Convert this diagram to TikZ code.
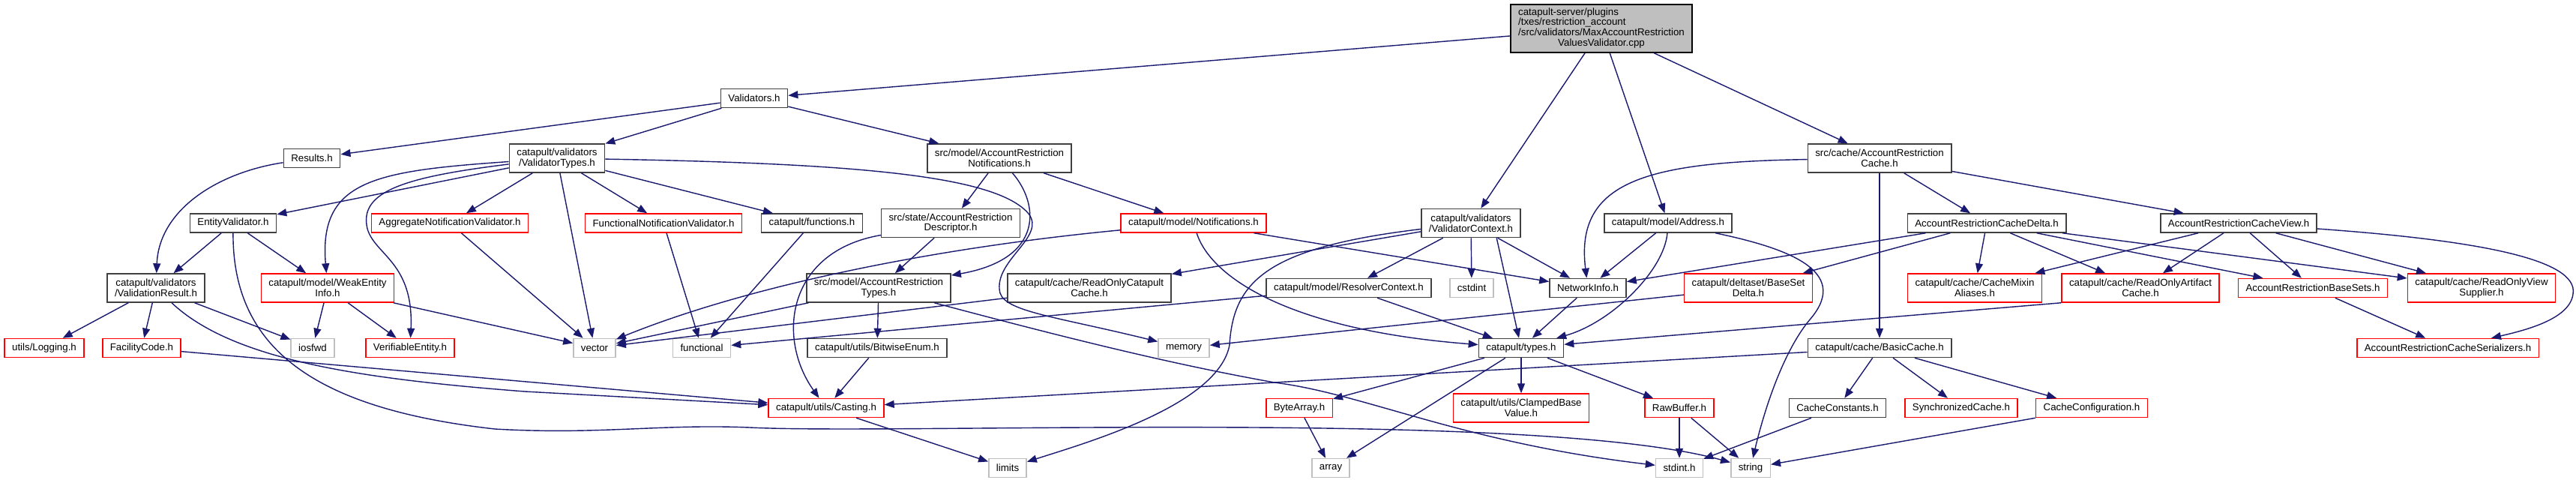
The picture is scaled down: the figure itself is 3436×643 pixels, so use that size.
\documentclass[tikz,border=0pt]{standalone}
\usepackage{fontspec}
\setmainfont{Liberation Sans}
\usepackage{tikz}
\usetikzlibrary{arrows.meta}
\definecolor{depblue}{HTML}{191970}
\definecolor{docgray}{HTML}{404040}
\definecolor{sysgray}{HTML}{BFBFBF}
\newcommand{\depfont}{\fontsize{6.65}{6.9}\selectfont}

\begin{document}
\begin{tikzpicture}[x=0.5pt,y=-0.5pt,
  hdr/.style={draw=docgray,line width=0.75pt,fill=white,inner xsep=5pt,inner ysep=1pt,
    minimum height=12.5pt,align=center,font=\depfont},
  hdrtwo/.style={hdr,minimum height=19pt},
  hdrred/.style={hdr,draw=red},
  hdrredtwo/.style={hdrtwo,draw=red},
  hdrsys/.style={hdr,draw=sysgray},
  dep/.style={draw=depblue,line width=0.7pt,-{Triangle[length=6.5pt,width=5pt]}}]

% sfondo
\fill[white] (0,0) rectangle (3436,643);
\useasboundingbox (0,0) rectangle (3436,643);

%========================
% File principale
%========================

\node[hdr,fill=sysgray,draw=black,minimum height=32pt] (main) at (2136,38)
{\begin{tabular}{@{}l@{}}catapult-server/plugins\\/txes/restriction\_account\\/src/validators/MaxAccountRestriction\\\multicolumn{1}{@{}c@{}}{ValuesValidator.cpp}\end{tabular}};

%========================
% Livelli 1-3
%========================

\node[hdr] (validators) at (1006,131) {Validators.h};

\node[hdr] (results) at (416,211) {Results.h};
\node[hdrtwo] (vtypes) at (743,211) {catapult/validators\\/ValidatorTypes.h};
\node[hdrtwo] (arnotif) at (1333,211) {src/model/AccountRestriction\\Notifications.h};
\node[hdrtwo] (arcache) at (2507,211) {src/cache/AccountRestriction\\Cache.h};

\node[hdr] (entityval) at (311,297.5) {EntityValidator.h};
\node[hdrred] (aggval) at (600,297.5) {AggregateNotificationValidator.h};
\node[hdrred] (funcval) at (885,297.5) {FunctionalNotificationValidator.h};
\node[hdr] (functions) at (1083,297.5) {catapult/functions.h};
\node[hdrtwo] (ardesc) at (1268,297.5) {src/state/AccountRestriction\\Descriptor.h};
\node[hdrred] (notif) at (1592,297.5) {catapult/model/Notifications.h};
\node[hdrtwo] (vctx) at (1962,297.5) {catapult/validators\\/ValidatorContext.h};
\node[hdr] (address) at (2225,297.5) {catapult/model/Address.h};
\node[hdr] (ardelta) at (2650,297.5) {AccountRestrictionCacheDelta.h};
\node[hdr] (arview) at (2986,297.5) {AccountRestrictionCacheView.h};

%========================
% Livelli 4-7
%========================

\node[hdrtwo] (vresult) at (208,384) {catapult/validators\\/ValidationResult.h};
\node[hdrredtwo] (weak) at (437,384) {catapult/model/WeakEntity\\Info.h};
\node[hdrtwo] (artypes) at (1172,384) {src/model/AccountRestriction\\Types.h};
\node[hdrtwo] (rocache) at (1453,384) {catapult/cache/ReadOnlyCatapult\\Cache.h};
\node[hdr] (resolver) at (1799,384) {catapult/model/ResolverContext.h};
\node[hdr] (netinfo) at (2118,384) {NetworkInfo.h};
\node[hdrredtwo] (basesetdelta) at (2332,384) {catapult/deltaset/BaseSet\\Delta.h};
\node[hdrredtwo] (mixin) at (2634,384) {catapult/cache/CacheMixin\\Aliases.h};
\node[hdrredtwo] (roartifact) at (2855,384) {catapult/cache/ReadOnlyArtifact\\Cache.h};
\node[hdrred] (basesets) at (3085,384) {AccountRestrictionBaseSets.h};
\node[hdrredtwo] (roview) at (3310,384) {catapult/cache/ReadOnlyView\\Supplier.h};

\node[hdrred] (logging) at (59,464) {utils/Logging.h};
\node[hdrred] (facility) at (189,464) {FacilityCode.h};
\node[hdrred] (verifiable) at (547,464) {VerifiableEntity.h};
\node[hdr] (bitwise) at (1170,464) {catapult/utils/BitwiseEnum.h};
\node[hdr] (types) at (2029,464) {catapult/types.h};
\node[hdr] (basiccache) at (2507,464) {catapult/cache/BasicCache.h};
\node[hdrred] (serializers) at (3265,464) {AccountRestrictionCacheSerializers.h};

\node[hdrred] (casting) at (1102,544) {catapult/utils/Casting.h};
\node[hdrred] (bytearray) at (1733,544) {ByteArray.h};
\node[hdrredtwo] (clamped) at (2029,544) {catapult/utils/ClampedBase\\Value.h};
\node[hdrred] (rawbuffer) at (2240,544) {RawBuffer.h};
\node[hdr] (cacheconst) at (2451,544) {CacheConstants.h};
\node[hdrred] (sync) at (2616,544) {SynchronizedCache.h};
\node[hdrred] (cacheconfig) at (2790,544) {CacheConfiguration.h};

% header di sistema
\foreach \n/\x/\y/\t in {cstdint/1963/384/cstdint, iosfwd/417/464/iosfwd,
  vector/793/464/vector, functional/936/464/functional, memory/1579/464/memory,
  limits/1344/624/limits, array/1775/624/array, stdint/2240/624/stdint.h,
  string/2335/624/string}
{
    \node[hdrsys] (\n) at (\x,\y) {\t};
}

%========================
% Frecce dirette
%========================

\foreach \a/\b in {main/validators, main/vctx, main/address, main/arcache,
  validators/results, validators/vtypes, validators/arnotif,
  vtypes/entityval, vtypes/vector, vtypes/aggval, vtypes/funcval, vtypes/functions,
  entityval/vresult, entityval/weak,
  vresult/logging, vresult/facility, vresult/iosfwd,
  weak/iosfwd, weak/verifiable, weak/vector,
  facility/casting, aggval/vector, funcval/functional, functions/functional,
  arnotif/ardesc, arnotif/notif, ardesc/artypes,
  artypes/vector, artypes/bitwise, bitwise/casting, casting/limits,
  notif/netinfo,
  vctx/rocache, vctx/resolver, vctx/cstdint, vctx/netinfo,
  rocache/vector, resolver/functional, resolver/types, netinfo/types, address/netinfo,
  arcache/basiccache, arcache/ardelta, arcache/arview,
  ardelta/netinfo, ardelta/basesetdelta, ardelta/mixin, ardelta/roartifact,
  ardelta/basesets, ardelta/roview,
  arview/mixin, arview/roartifact, arview/basesets, arview/roview,
  basesets/serializers, basesetdelta/memory,
  types/bytearray, types/array, types/clamped, types/rawbuffer, bytearray/array,
  rawbuffer/stdint, rawbuffer/string,
  basiccache/casting, basiccache/cacheconst, basiccache/sync, basiccache/cacheconfig,
  cacheconst/stdint}
{
    \draw[dep] (\a) -- (\b);
}

\draw[dep] (vctx.-30) -- (types);
\draw[dep] (roartifact.south west) -- (types);
\draw[dep] (cacheconfig.south west) -- (string);

%========================
% Frecce curve
%========================

\draw[dep] (results) .. controls (290,230) and (212,280) .. (vresult);
\draw[dep] (vtypes) .. controls (500,228) and (425,240) .. (weak);
\draw[dep] (vtypes) .. controls (540,236) and (478,255) .. (490,305)
  .. controls (500,340) and (552,350) .. (verifiable);
\draw[dep] (vtypes) .. controls (1150,218) and (1330,235) .. (1372,285)
  .. controls (1395,315) and (1330,345) .. (1333,385)
  .. controls (1333,415) and (1400,420) .. (memory);
\draw[dep] (entityval) .. controls (310,465) and (420,545) .. (660,572)
  .. controls (800,580) and (880,565) .. (1000,570)
  .. controls (1200,580) and (2050,545) .. (string);
\draw[dep] (vresult) .. controls (310,480) and (480,505) .. (700,522) -- (casting);
\draw[dep] (arnotif) .. controls (1385,270) and (1395,345) .. (artypes);
\draw[dep] (ardesc) .. controls (1050,335) and (1035,450) .. (casting);
\draw[dep] (notif) .. controls (1250,330) and (1000,380) .. (vector);
\draw[dep] (notif) .. controls (1615,370) and (1720,440) .. (types);
\draw[dep] (vctx) .. controls (1690,330) and (1645,375) .. (1640,460)
  .. controls (1625,540) and (1450,590) .. (limits);
\draw[dep] (artypes) .. controls (1420,450) and (1560,485) .. (1700,510)
  .. controls (1820,525) and (1950,590) .. (stdint);
\draw[dep] (address) .. controls (2220,360) and (2150,430) .. (types);
\draw[dep] (address) .. controls (2380,330) and (2470,360) .. (2415,425)
  .. controls (2375,472) and (2350,560) .. (string);
\draw[dep] (arcache) .. controls (2200,216) and (2100,240) .. (netinfo);
\draw[dep] (arview) .. controls (3300,320) and (3440,345) .. (3432,392)
  .. controls (3428,425) and (3370,440) .. (serializers);
\end{tikzpicture}
\end{document}
